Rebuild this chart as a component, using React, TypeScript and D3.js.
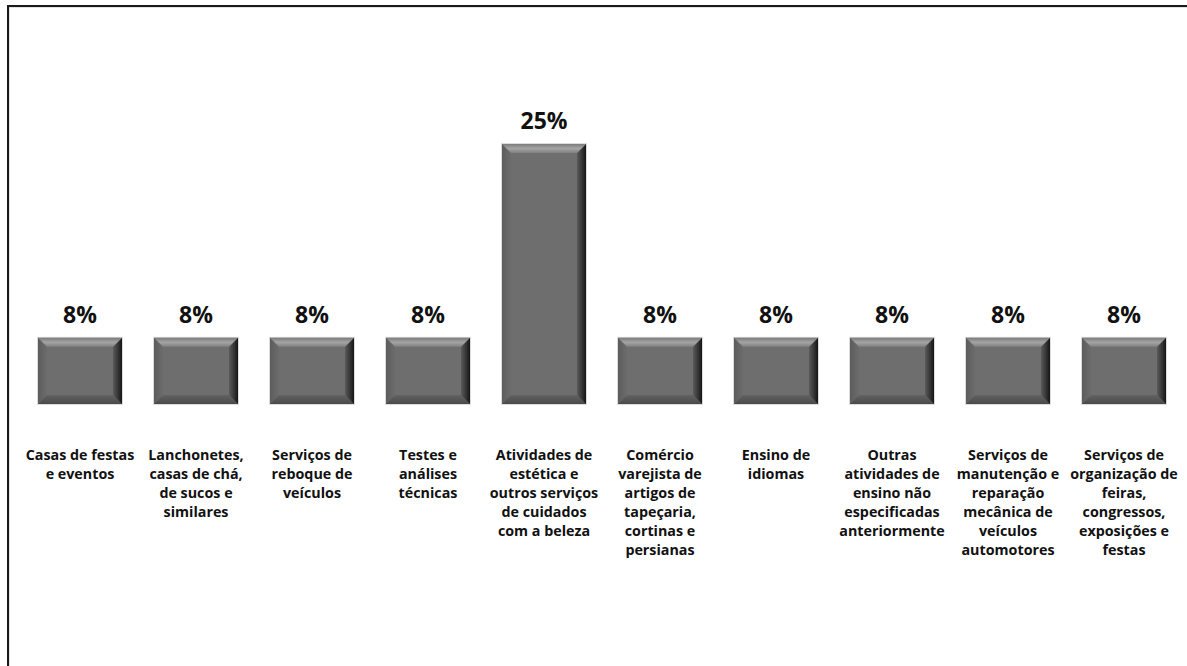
import React from "react";
import * as d3 from "d3";

const categories: string[] = [
  "Casas de festas e eventos",
  "Lanchonetes, casas de chá, de sucos e similares",
  "Serviços de reboque de veículos",
  "Testes e análises técnicas",
  "Atividades de estética e outros serviços de cuidados com a beleza",
  "Comércio varejista de artigos de tapeçaria, cortinas e persianas",
  "Ensino de idiomas",
  "Outras atividades de ensino não especificadas anteriormente",
  "Serviços de manutenção e reparação mecânica de veículos automotores",
  "Serviços de organização de feiras, congressos, exposições e festas",
];

const categoryLines: string[][] = [
  ["Casas de festas", "e eventos"],
  ["Lanchonetes,", "casas de chá,", "de sucos e", "similares"],
  ["Serviços de", "reboque de", "veículos"],
  ["Testes e", "análises", "técnicas"],
  ["Atividades de", "estética e", "outros serviços", "de cuidados", "com a beleza"],
  ["Comércio", "varejista de", "artigos de", "tapeçaria,", "cortinas e", "persianas"],
  ["Ensino de", "idiomas"],
  ["Outras", "atividades de", "ensino não", "especificadas", "anteriormente"],
  ["Serviços de", "manutenção e", "reparação", "mecânica de", "veículos", "automotores"],
  ["Serviços de", "organização de", "feiras,", "congressos,", "exposições e", "festas"],
];

const values: number[] = [8, 8, 8, 8, 25, 8, 8, 8, 8, 8];

const W = 1187;
const H = 666;
const FONT = "'Open Sans', Lato, sans-serif";

export default function App() {
  const x = d3
    .scaleBand<string>()
    .domain(categories)
    .range([22, 1182])
    .paddingInner(0.276)
    .paddingOuter(0.138);
  const y = d3.scaleLinear().domain([2.2, 25]).range([404, 144]);
  const b = 9;

  return (
    <svg
      width={W}
      height={H}
      style={{ position: "absolute", left: 0, top: 0, background: "#fff" }}
      fontFamily={FONT}
    >
      <defs>
        <linearGradient id="gTop" x1="0" y1="0" x2="0" y2="1">
          <stop offset="0" stopColor="#7c7c7c" />
          <stop offset="0.5" stopColor="#a4a4a4" />
          <stop offset="1" stopColor="#808080" />
        </linearGradient>
        <linearGradient id="gRight" x1="0" y1="0" x2="1" y2="0">
          <stop offset="0" stopColor="#5a5a5a" />
          <stop offset="0.6" stopColor="#333" />
          <stop offset="1" stopColor="#141414" />
        </linearGradient>
        <linearGradient id="gLeft" x1="0" y1="0" x2="1" y2="0">
          <stop offset="0" stopColor="#5c5c5c" />
          <stop offset="1" stopColor="#6c6c6c" />
        </linearGradient>
        <linearGradient id="gBottom" x1="0" y1="0" x2="0" y2="1">
          <stop offset="0" stopColor="#626262" />
          <stop offset="1" stopColor="#4a4a4a" />
        </linearGradient>
      </defs>
      <rect x={8} y={6} width={1400} height={900} fill="none" stroke="#c8c8c8" strokeWidth={1} transform="translate(1,1)" />
      <rect x={8} y={6} width={1400} height={900} fill="none" stroke="#1a1a1a" strokeWidth={2} />
      {categories.map((c, i) => {
        const x0 = x(c)!;
        const w = x.bandwidth();
        const x1 = x0 + w;
        const y0 = y(values[i]);
        const y1 = y(y.domain()[0]);
        const cx = x0 + w / 2;
        return (
          <g key={c}>
            <rect x={x0 - 0.5} y={y0 - 0.5} width={w + 1} height={y1 - y0 + 1} fill="none" stroke="#dcdcdc" strokeWidth={1} />
            <rect x={x0} y={y0} width={w} height={y1 - y0} fill="#6e6e6e" />
            <polygon points={`${x0},${y0} ${x0 + b},${y0 + b} ${x0 + b},${y1 - b} ${x0},${y1}`} fill="url(#gLeft)" />
            <polygon points={`${x0},${y1} ${x1},${y1} ${x1 - b},${y1 - b} ${x0 + b},${y1 - b}`} fill="url(#gBottom)" />
            <polygon points={`${x1},${y0} ${x1},${y1} ${x1 - b},${y1 - b} ${x1 - b},${y0 + b}`} fill="url(#gRight)" />
            <polygon points={`${x0},${y0} ${x1},${y0} ${x1 - b},${y0 + b} ${x0 + b},${y0 + b}`} fill="url(#gTop)" />
            <text x={cx} y={y0 - 15} textAnchor="middle" fontSize={23} fontWeight="bold" fill="#111">
              {`${values[i]}%`}
            </text>
            <text x={cx} textAnchor="middle" fontSize={14.3} fontWeight="bold" fill="#111">
              {categoryLines[i].map((ln, j) => (
                <tspan key={j} x={cx} y={460 + j * 19}>
                  {ln}
                </tspan>
              ))}
            </text>
          </g>
        );
      })}
    </svg>
  );
}
